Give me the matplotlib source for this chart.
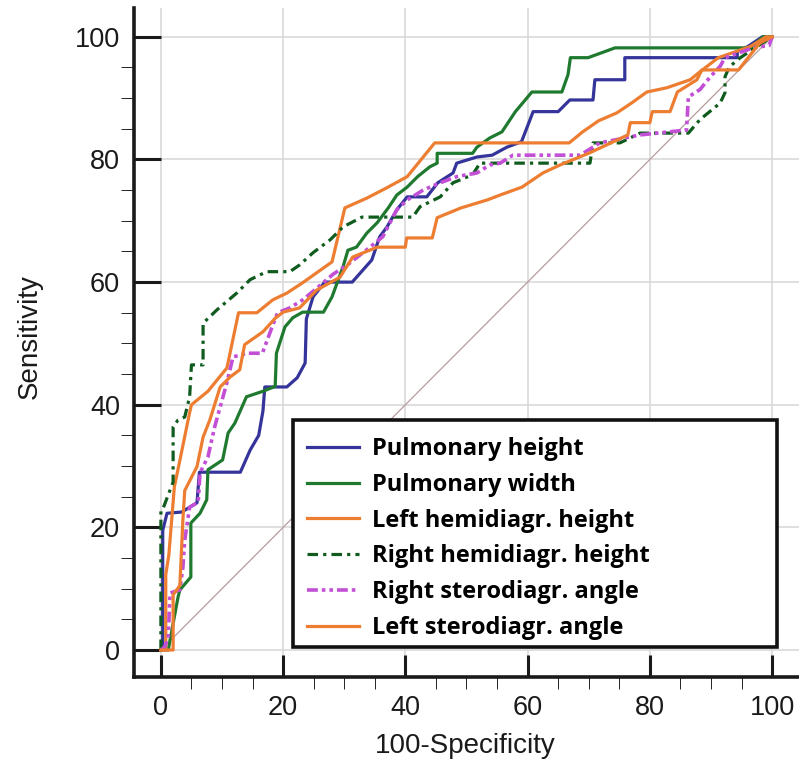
import matplotlib
matplotlib.use("Agg")
import matplotlib.pyplot as plt
from matplotlib.patches import Rectangle
from matplotlib.ticker import MultipleLocator

# ROC curves (100-specificity, sensitivity)
ph_x = [0, 0.3, 0.3, 1, 3.4, 5.9, 6.3, 13, 14.6, 16, 16.7, 17, 20.6, 22.3, 23.6, 23.8, 24.9, 26.8,
        31.3, 34.5, 35.8, 37, 38.6, 40.3, 43.5, 45.3, 47.8, 48.4, 51.7, 54.2, 56.6, 59, 60.4, 60.9,
        65, 66.9, 70.7, 71, 75.9, 75.9, 94.3, 94.3, 96, 98.4, 100]
ph_y = [0, 0, 19.5, 22.3, 22.5, 24, 29, 29, 32.6, 35, 39, 42.9, 42.9, 44.4, 46.8, 54, 57.6, 60,
        60, 63.6, 67.4, 69, 71.8, 73.9, 73.9, 76.2, 77.8, 79.4, 80.4, 80.7, 82, 82.9, 86.5, 87.8,
        87.8, 89.7, 89.7, 93, 93, 96.6, 96.6, 97.6, 98.4, 100, 100]

pw_x = [0, 1.2, 2.8, 3.1, 4.9, 4.9, 6.4, 7.5, 7.7, 10.1, 11, 12.1, 14, 16.7, 18.7, 18.9, 20.3,
        21.6, 23.2, 26.6, 28, 29.8, 30.6, 32, 33.7, 35.4, 37.2, 38.6, 40.3, 42, 44, 45.2, 45.2,
        51, 51.7, 53.8, 55.8, 58, 60.7, 65.6, 66.6, 67, 69.9, 74.3, 96.5, 98.5, 100]
pw_y = [0, 0, 8.6, 9.8, 11.9, 20.7, 22.3, 24.5, 29.4, 31, 35.4, 37, 41.3, 42.2, 43, 48.4, 52.7,
        54.2, 55.1, 55.1, 57.6, 62.5, 65.2, 65.7, 68, 69.7, 72.1, 74.2, 75.5, 77.2, 78.8, 79.4, 81,
        81, 82, 83.5, 84.5, 87.8, 91, 91, 93.8, 96.6, 96.6, 98.2, 98.2, 100, 100]

lhh_x = [0, 0.8, 0.8, 1.3, 2.2, 2.6, 4.7, 5, 7.7, 10.8, 12.7, 15.7, 18.3, 20.6, 23.2, 28, 30.1,
         33.7, 37, 40.3, 44.8, 66.8, 69, 71.6, 74.6, 77, 79.5, 82.8, 86.6, 88.2, 91.2, 96.4, 99, 100]
lhh_y = [0, 0, 12.3, 15.5, 26.6, 28.5, 38.7, 40, 42.2, 46, 55, 55, 57.1, 58.2, 59.9, 63.3, 72.1,
         73.7, 75.4, 77.2, 82.7, 82.7, 84.5, 86.3, 87.6, 89.2, 91, 91.7, 93, 94.3, 96.6, 98.4, 100, 100]

rhh_x = [0, 0, 0.4, 2, 2, 2.8, 3.9, 4.7, 5, 6.9, 6.9, 9.2, 12.4, 14.6, 17.3, 21.1, 22.7, 24.9,
         27.7, 29.8, 32.9, 41.2, 42.4, 45.7, 47.8, 51, 52.2, 70.2, 70.7, 75.1, 78.4, 86.3, 88.2,
         91.5, 92.3, 92.3, 93, 94.8, 99.2, 100]
rhh_y = [0, 22.8, 23.2, 27.4, 36.4, 37.5, 38, 41.3, 46.5, 46.5, 53.3, 55.5, 58.2, 60.4, 61.7,
         61.7, 62.8, 64.8, 66.9, 69, 70.6, 70.6, 72.3, 73.9, 76.2, 77.5, 79.4, 79.4, 82.7, 82.7,
         84.3, 84.3, 86.5, 89.2, 90.9, 93.5, 95.1, 96.6, 99.5, 100]

rsa_x = [0, 0.6, 1.2, 1.5, 3.1, 3.6, 3.9, 4.7, 6.1, 6.4, 7.7, 8.8, 10.8, 11.8, 14.2, 16.6, 18.2,
         19.1, 21.1, 23.2, 25.5, 28.2, 30.9, 33.7, 36.3, 38.6, 40.3, 42.9, 45.7, 48.4, 51.7, 53.8,
         55.5, 57.6, 68.6, 71.8, 78.4, 86, 86.3, 88.2, 89.9, 91.5, 92.3, 96.9, 99.5, 100]
rsa_y = [0, 0.5, 2, 9.3, 9.8, 13.5, 17.9, 23.3, 24.1, 28.9, 31.5, 36.4, 43.6, 47.8, 48.4, 48.4,
         52.7, 55, 55.8, 57.1, 59, 61.3, 63.1, 65.3, 67.4, 71.8, 73.4, 75, 76.2, 77.2, 77.8, 79.1,
         79.4, 80.7, 80.7, 82.7, 84, 84.8, 90.2, 91.4, 93.5, 95.2, 96.6, 98.2, 98.6, 100]

lsa_x = [0, 2, 2, 3.1, 3.6, 3.9, 5.9, 6.9, 8, 9.7, 11.3, 12.9, 13.7, 16.7, 18.7, 20, 22.7, 25.5,
         29.3, 31.4, 35.4, 40, 40.2, 44.4, 45.2, 49.1, 53.4, 55.5, 59.1, 62.5, 65.3, 70.2, 76.4,
         76.8, 80, 80.4, 83.3, 84.5, 87.7, 88.5, 94.5, 96.4, 98, 100]
lsa_y = [0, 0, 9, 10.5, 21.2, 26, 29.9, 34.7, 37.5, 42.9, 44.5, 45.7, 49.8, 51.9, 54.1, 55.1,
         55.8, 58.7, 60.8, 64.1, 65.7, 65.7, 67.2, 67.2, 70.5, 72.1, 73.4, 74.2, 75.5, 77.8, 79.1,
         81.1, 84, 86, 86, 87.8, 87.8, 91, 93, 94.6, 94.6, 97, 99, 100]

labels = ["Pulmonary height", "Pulmonary width", "Left hemidiagr. height",
          "Right hemidiagr. height", "Right sterodiagr. angle", "Left sterodiagr. angle"]

BLUE = "#34349a"
GREEN = "#1f7a30"
ORANGE = "#ed7d31"
DKGREEN = "#0f5c1e"
MAGENTA = "#c24fd6"

fig = plt.figure(figsize=(7.99, 7.63), dpi=100)
W, H = 799, 763
ax = fig.add_axes([134 / W, 86 / H, 665 / W, 669 / H])

ax.plot([0, 100], [0, 100], color="#b89c9c", lw=0.9, zorder=1.5)

lw = 2.3
ax.plot(ph_x, ph_y, color=BLUE, lw=lw, label=labels[0])
ax.plot(pw_x, pw_y, color=GREEN, lw=lw, label=labels[1])
ax.plot(lhh_x, lhh_y, color=ORANGE, lw=lw, label=labels[2])
ax.plot(rhh_x, rhh_y, color=DKGREEN, lw=lw, dashes=(3.3, 1.6, 1.0, 1.6), label=labels[3])
ax.plot(rsa_x, rsa_y, color=MAGENTA, lw=lw + 0.3, dashes=(3.0, 1.1, 1.0, 1.1, 1.0, 1.1),
        label=labels[4])
ax.plot(lsa_x, lsa_y, color=ORANGE, lw=lw, label=labels[5])

ax.set_xlim(-4.4, 104.4)
ax.set_ylim(-4.4, 104.7)
for s in ("top", "right"):
    ax.spines[s].set_visible(False)
for s in ("left", "bottom"):
    ax.spines[s].set_linewidth(2.6)
    ax.spines[s].set_color("#1a1a1a")

ax.set_xticks(range(0, 101, 20))
ax.set_yticks(range(0, 101, 20))
ax.xaxis.set_minor_locator(MultipleLocator(5))
ax.yaxis.set_minor_locator(MultipleLocator(5))
ax.tick_params(direction="in", width=2.2, color="#1a1a1a", labelsize=19.5, labelcolor="#1a1a1a")
ax.tick_params(axis="y", which="major", length=19.5, pad=10)
ax.tick_params(axis="x", which="major", length=16, pad=13)
ax.tick_params(axis="y", which="minor", length=9.5)
ax.tick_params(axis="x", which="minor", length=8.5)
for t in ax.get_xticklabels() + ax.get_yticklabels():
    t.set_fontfamily("Liberation Sans")

ax.grid(True, color="#d9d9d9", lw=1.2)
ax.set_axisbelow(True)

fig.text(30 / W, 1 - 337 / H, "Sensitivity", rotation=90, ha="center", va="center",
         fontsize=20, family="Liberation Sans", color="#1a1a1a")
fig.text(465 / W, 1 - 746 / H, "100-Specificity", ha="center", va="center",
         fontsize=20, family="Liberation Sans", color="#1a1a1a")

box = Rectangle((293 / W, (H - 647) / H), 484 / W, 227 / H, transform=fig.transFigure,
                facecolor="white", edgecolor="#111111", lw=2.6, zorder=4, clip_on=False)
ax.add_artist(box)
leg = ax.legend(loc="upper left", bbox_to_anchor=(307 / W, 1 - 437 / H),
                bbox_transform=fig.transFigure, frameon=False, borderpad=0, borderaxespad=0,
                handlelength=2.2, handletextpad=0.55, labelspacing=0.5,
                prop={"family": "Open Sans", "weight": "bold", "size": 17})
leg.set_zorder(5)

fig.savefig("out.png", dpi=100)
